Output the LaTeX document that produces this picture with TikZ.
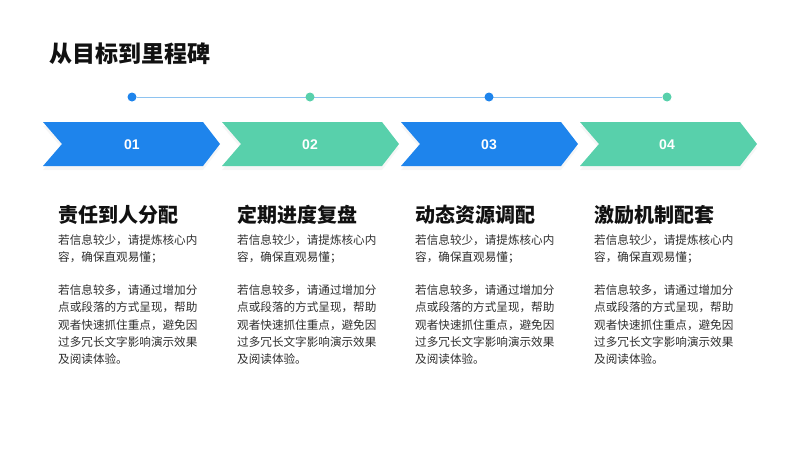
\documentclass[tikz,border=0pt]{standalone}
\usepackage{fontspec}
\usepackage{xcolor}
\usepackage{tikz}
\usetikzlibrary{shapes, positioning, shadows, backgrounds}
\setmainfont{Noto Sans CJK SC}
\newfontfamily\numfont{Liberation Sans}
\definecolor{flagblue}{HTML}{1E84EC}
\definecolor{flaggreen}{HTML}{58D0AB}
\definecolor{trackblue}{HTML}{8EC3F0}
\definecolor{inkdark}{HTML}{111111}
\definecolor{inkbody}{HTML}{2E2E2E}

\begin{document}
\begin{tikzpicture}[x=1pt, y=-1pt,
    flag/.style={drop shadow={opacity=0.07, shadow xshift=0pt, shadow yshift=-4pt}},
    num/.style={text=white, font=\numfont\bfseries\fontsize{14}{14}\selectfont},
    dot/.style={circle, minimum size=9pt, inner sep=0pt},
    track/.style={draw=trackblue, line width=1pt},
    head/.style={anchor=base west, inner sep=0pt, text=inkdark, font=\bfseries\fontsize{20}{20}\selectfont},
    body/.style={anchor=north west, inner sep=0pt, align=left, text=inkbody, font=\fontsize{11.6}{17.3}\selectfont}]
        \useasboundingbox (0, 0) rectangle (800, 450);

        \node[anchor=base west, inner sep=0pt, text=inkdark, font=\bfseries\fontsize{23}{23}\selectfont] (title) at (49, 62) {从目标到里程碑};

        \node[dot, fill=flagblue] (d1) at (132, 97) {};
        \node[dot, fill=flaggreen] (d2) at (310, 97) {};
        \node[dot, fill=flagblue] (d3) at (489, 97) {};
        \node[dot, fill=flaggreen] (d4) at (667, 97) {};
        \begin{scope}[on background layer]
            \draw[track] (d1) -- (d4);
        \end{scope}

        \fill[flag, flagblue] (43, 122) -- (203, 122) -- (220, 144) -- (203, 166) -- (43, 166) -- (62, 144) -- cycle;
        \fill[flag, flaggreen] (222, 122) -- (382, 122) -- (399, 144) -- (382, 166) -- (222, 166) -- (241, 144) -- cycle;
        \fill[flag, flagblue] (401, 122) -- (561, 122) -- (578, 144) -- (561, 166) -- (401, 166) -- (420, 144) -- cycle;
        \fill[flag, flaggreen] (580, 122) -- (740, 122) -- (757, 144) -- (740, 166) -- (580, 166) -- (599, 144) -- cycle;
        \node[num] (n1) at (132, 145) {01};
        \node[num] (n2) at (310, 145) {02};
        \node[num] (n3) at (489, 145) {03};
        \node[num] (n4) at (667, 145) {04};

        \node[head] (h1) at (58, 222) {责任到人分配};
        \node[head] (h2) at (237, 222) {定期进度复盘};
        \node[head] (h3) at (415, 222) {动态资源调配};
        \node[head] (h4) at (594, 222) {激励机制配套};

        \node[body] (t1) at (58, 234) {若信息较少，请提炼核心内\\容，确保直观易懂；\\[16pt]若信息较多，请通过增加分\\点或段落的方式呈现，帮助\\观者快速抓住重点，避免因\\过多冗长文字影响演示效果\\及阅读体验。};
        \node[body] (t2) at (237, 234) {若信息较少，请提炼核心内\\容，确保直观易懂；\\[16pt]若信息较多，请通过增加分\\点或段落的方式呈现，帮助\\观者快速抓住重点，避免因\\过多冗长文字影响演示效果\\及阅读体验。};
        \node[body] (t3) at (415, 234) {若信息较少，请提炼核心内\\容，确保直观易懂；\\[16pt]若信息较多，请通过增加分\\点或段落的方式呈现，帮助\\观者快速抓住重点，避免因\\过多冗长文字影响演示效果\\及阅读体验。};
        \node[body] (t4) at (594, 234) {若信息较少，请提炼核心内\\容，确保直观易懂；\\[16pt]若信息较多，请通过增加分\\点或段落的方式呈现，帮助\\观者快速抓住重点，避免因\\过多冗长文字影响演示效果\\及阅读体验。};
    \end{tikzpicture}
\end{document}
